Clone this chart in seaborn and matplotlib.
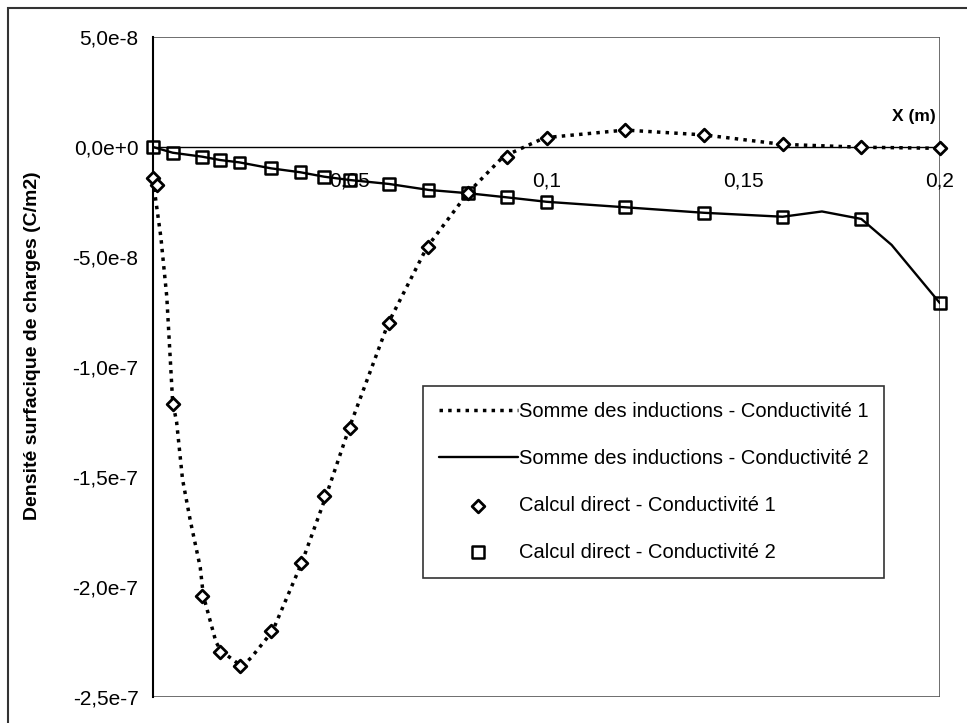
import matplotlib
matplotlib.use("Agg")
import matplotlib.pyplot as plt
from matplotlib.patches import Rectangle
from matplotlib.ticker import MultipleLocator, FuncFormatter
import seaborn as sns

# Somme des inductions (courbes lissées)
x_somme_1 = [0.0, 0.002, 0.0035, 0.005, 0.006, 0.0075, 0.0095, 0.012, 0.0128,
             0.016, 0.0173, 0.021, 0.0227, 0.025, 0.0304, 0.0378, 0.044, 0.0498,
             0.0598, 0.0696, 0.08, 0.089, 0.0995, 0.12, 0.14, 0.16, 0.18, 0.2]
y_somme_1 = [-1.5e-8, -4.1e-8, -6.8e-8, -11.6e-8, -12.5e-8, -15.1e-8, -17.0e-8,
             -19.1e-8, -20.4e-8, -22.5e-8, -22.9e-8, -23.4e-8, -23.6e-8,
             -23.2e-8, -22.0e-8, -18.9e-8, -15.85e-8, -12.8e-8, -8.0e-8,
             -4.56e-8, -2.09e-8, -0.44e-8, 0.42e-8, 0.77e-8, 0.55e-8,
             0.12e-8, -0.01e-8, -0.06e-8]

x_somme_2 = [0.0, 0.005, 0.0125, 0.017, 0.022, 0.03, 0.0375, 0.0435, 0.05, 0.06,
             0.07, 0.08, 0.09, 0.1, 0.12, 0.14, 0.16, 0.17, 0.18, 0.1877, 0.2]
y_somme_2 = [0.0, -0.26e-8, -0.44e-8, -0.59e-8, -0.70e-8, -0.97e-8, -1.15e-8,
             -1.35e-8, -1.50e-8, -1.68e-8, -1.95e-8, -2.10e-8, -2.29e-8,
             -2.49e-8, -2.74e-8, -2.99e-8, -3.17e-8, -2.93e-8, -3.27e-8,
             -4.45e-8, -7.10e-8]

# Calcul direct (points)
x_direct_1 = [0.0, 0.001, 0.005, 0.0125, 0.017, 0.022, 0.03, 0.0375, 0.0435,
              0.05, 0.06, 0.07, 0.08, 0.09, 0.1, 0.12, 0.14, 0.16, 0.18, 0.2]
y_direct_1 = [-1.42e-8, -1.73e-8, -11.68e-8, -20.41e-8, -22.94e-8, -23.59e-8,
              -21.99e-8, -18.92e-8, -15.85e-8, -12.77e-8, -8.01e-8, -4.56e-8,
              -2.09e-8, -0.44e-8, 0.42e-8, 0.77e-8, 0.55e-8, 0.12e-8,
              -0.01e-8, -0.06e-8]

x_direct_2 = [0.0, 0.005, 0.0125, 0.017, 0.022, 0.03, 0.0375, 0.0435, 0.05,
              0.06, 0.07, 0.08, 0.09, 0.1, 0.12, 0.14, 0.16, 0.18, 0.2]
y_direct_2 = [0.0, -0.26e-8, -0.44e-8, -0.59e-8, -0.70e-8, -0.97e-8, -1.15e-8,
              -1.35e-8, -1.50e-8, -1.68e-8, -1.95e-8, -2.10e-8, -2.29e-8,
              -2.49e-8, -2.74e-8, -2.99e-8, -3.17e-8, -3.27e-8, -7.10e-8]

labels = ["Somme des inductions - Conductivité 1",
          "Somme des inductions - Conductivité 2",
          "Calcul direct - Conductivité 1",
          "Calcul direct - Conductivité 2"]

sns.set_theme(style="white")
plt.rcParams["font.family"] = ["Liberation Sans", "DejaVu Sans"]
plt.rcParams["text.color"] = "black"
plt.rcParams["axes.labelcolor"] = "black"

fig = plt.figure(figsize=(9.67, 7.23), dpi=100)
ax = fig.add_axes([153 / 967, 26 / 723, 787 / 967, 660 / 723])

sns.lineplot(x=x_somme_1, y=y_somme_1, ax=ax, color="black", linewidth=2.5,
             linestyle=(0, (1, 1.5)), estimator=None, sort=False, label=labels[0])
sns.lineplot(x=x_somme_2, y=y_somme_2, ax=ax, color="black", linewidth=1.7,
             estimator=None, sort=False, label=labels[1])
sns.scatterplot(x=x_direct_1, y=y_direct_1, ax=ax, marker="D", s=42,
                color="white", edgecolor="black", linewidth=2.0,
                label=labels[2], zorder=5, clip_on=False)
sns.scatterplot(x=x_direct_2, y=y_direct_2, ax=ax, marker="s", s=72,
                color="black", facecolor="none", edgecolor="black",
                linewidth=1.8, label=labels[3], zorder=5, clip_on=False)

ax.set_xlim(0, 0.2)
ax.set_ylim(-2.5e-7, 5e-8)
ax.xaxis.set_major_locator(MultipleLocator(0.025))
ax.yaxis.set_major_locator(MultipleLocator(5e-8))


def fmt_x(v, pos):
    if abs(v) < 1e-9 or abs(v / 0.05 - round(v / 0.05)) > 1e-6:
        return ""
    return f"{v:g}".replace(".", ",")


def fmt_y(v, pos):
    m, e = f"{v:.1e}".split("e")
    return f"{m.replace('.', ',')}e{int(e):+d}"


ax.xaxis.set_major_formatter(FuncFormatter(fmt_x))
ax.yaxis.set_major_formatter(FuncFormatter(fmt_y))
ax.yaxis.get_offset_text().set_visible(False)

ax.spines["bottom"].set_position(("data", 0))
ax.spines["top"].set_visible(False)
ax.spines["right"].set_visible(False)
for side in ["left", "bottom"]:
    ax.spines[side].set_color("black")
ax.spines["left"].set_linewidth(1.5)
ax.spines["bottom"].set_linewidth(1.0)
ax.add_patch(Rectangle((0, 0), 1, 1, transform=ax.transAxes, fill=False,
                       edgecolor="#555555", linewidth=1.2, zorder=0))

ax.tick_params(axis="both", direction="inout", length=9, width=1,
               colors="black", labelsize=15)
ax.tick_params(axis="x", pad=13)
ax.tick_params(axis="y", pad=6)

ax.set_xlabel("")
ax.set_ylabel("Densité surfacique de charges (C/m2)", fontsize=14,
              fontweight="bold", color="black")
ax.yaxis.set_label_coords(-0.142, 0.533)
ax.text(0.995, 0.879, "X (m)", transform=ax.transAxes, ha="right",
        va="center", fontsize=12.5, fontweight="bold", color="black")

leg = ax.legend(loc="upper left", bbox_to_anchor=(0.343, 0.471),
                borderaxespad=0, fontsize=14.5, frameon=True, fancybox=False,
                handlelength=3.9, handletextpad=0.05, labelspacing=1.38,
                borderpad=0.8, scatterpoints=1, labelcolor="black")
leg.get_frame().set_edgecolor("black")
leg.get_frame().set_linewidth(1.2)

# cadre extérieur du graphique
fig.patches.append(Rectangle((8 / 967, -0.05), 1.2, 1 - 8 / 723 + 0.05,
                             transform=fig.transFigure, fill=False,
                             edgecolor="#333333", linewidth=1.5))

fig.savefig("out.png", dpi=100)
plt.close(fig)
